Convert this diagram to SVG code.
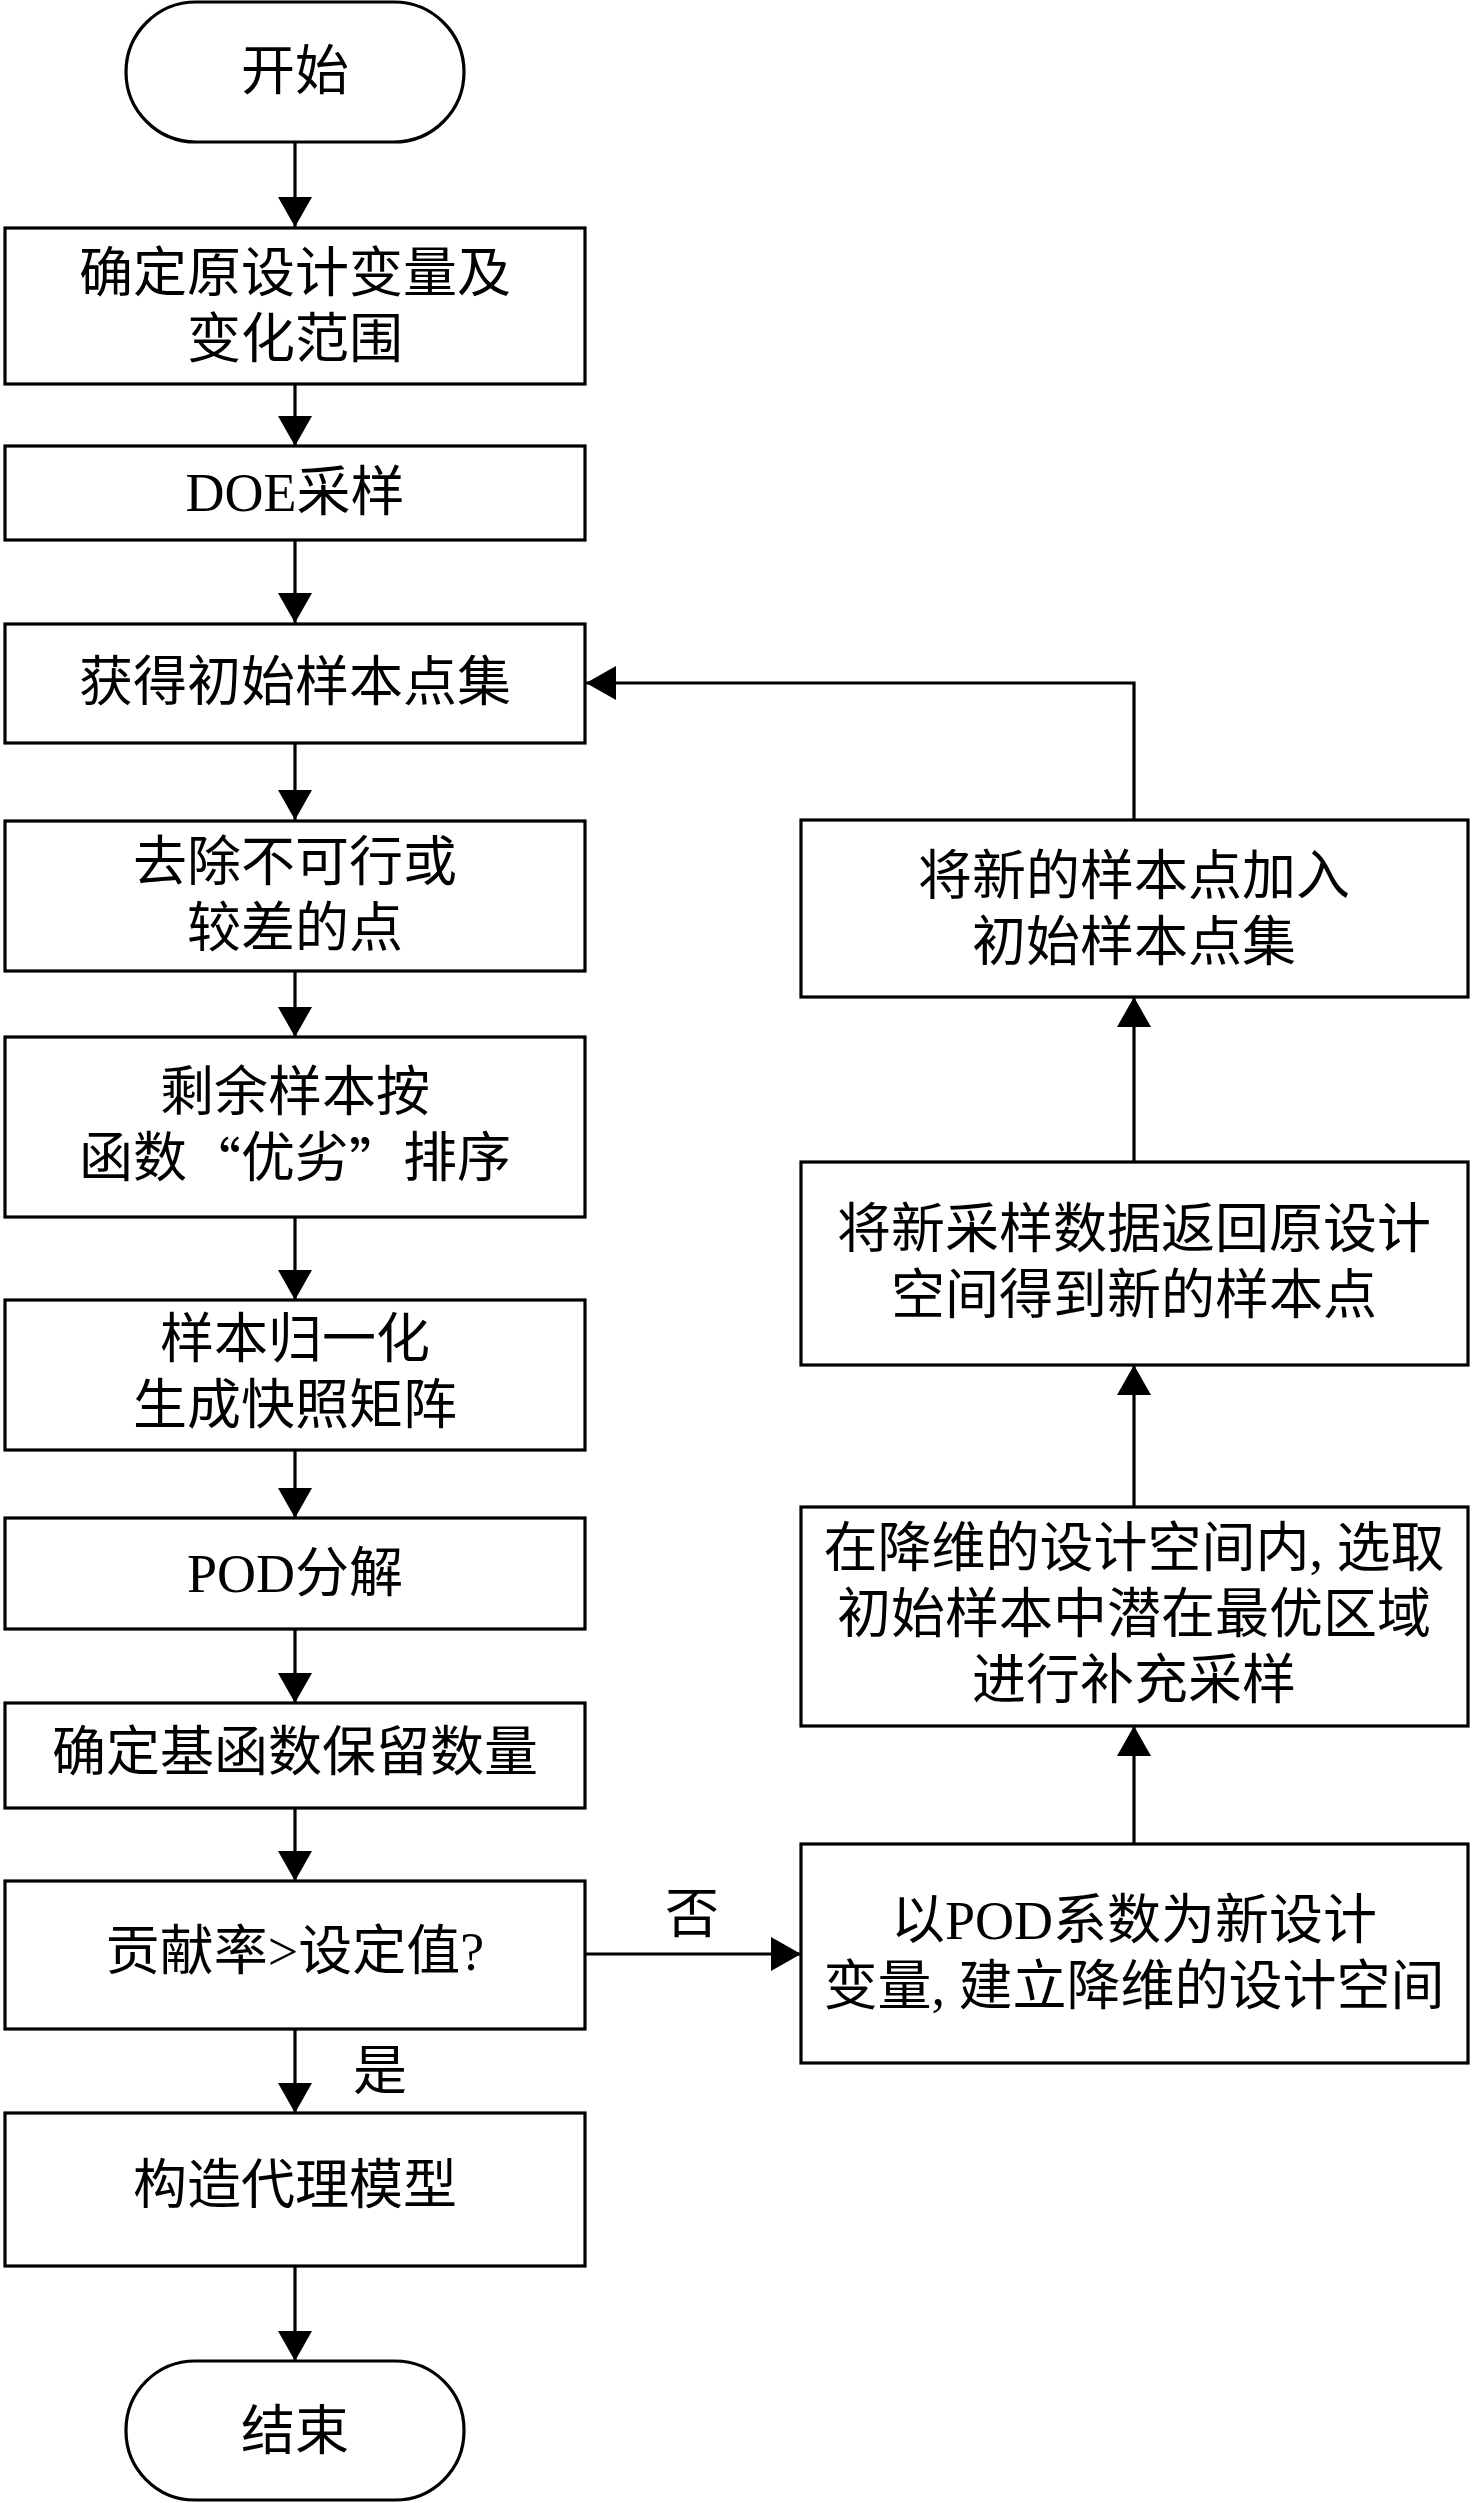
<svg xmlns="http://www.w3.org/2000/svg" width="1476" height="2503" viewBox="0 0 1476 2503">
<style>
.b{fill:#fff;stroke:#000;stroke-width:3.2}
.t{font-family:"Liberation Serif","Noto Sans CJK SC",serif;font-size:54px;fill:#000;text-anchor:middle;dominant-baseline:central}
.q{font-family:"Noto Sans CJK SC",sans-serif}
.c{fill:none;stroke:#000;stroke-width:3.2}
</style>
<defs>
<marker id="ah" markerUnits="userSpaceOnUse" markerWidth="34" markerHeight="34" viewBox="0 0 30 34" refX="30" refY="17" orient="auto">
<path d="M0,0 L30,17 L0,34 Z" fill="#000"/>
</marker>
</defs>
<rect width="1476" height="2503" fill="#fff"/>
<g id="connectors">
<line class="c" x1="295" y1="142" x2="295" y2="227" marker-end="url(#ah)"/>
<line class="c" x1="295" y1="384" x2="295" y2="446" marker-end="url(#ah)"/>
<line class="c" x1="295" y1="540" x2="295" y2="623" marker-end="url(#ah)"/>
<line class="c" x1="295" y1="743" x2="295" y2="820" marker-end="url(#ah)"/>
<line class="c" x1="295" y1="971" x2="295" y2="1037" marker-end="url(#ah)"/>
<line class="c" x1="295" y1="1217" x2="295" y2="1300" marker-end="url(#ah)"/>
<line class="c" x1="295" y1="1450" x2="295" y2="1518" marker-end="url(#ah)"/>
<line class="c" x1="295" y1="1629" x2="295" y2="1703" marker-end="url(#ah)"/>
<line class="c" x1="295" y1="1808" x2="295" y2="1881" marker-end="url(#ah)"/>
<line class="c" x1="295" y1="2029" x2="295" y2="2113" marker-end="url(#ah)"/>
<text class="t" x="380" y="2072">是</text>
<line class="c" x1="295" y1="2266" x2="295" y2="2361" marker-end="url(#ah)"/>
<line class="c" x1="585" y1="1954" x2="801" y2="1954" marker-end="url(#ah)"/>
<text class="t" x="692" y="1915">否</text>
<line class="c" x1="1134" y1="1844" x2="1134" y2="1726" marker-end="url(#ah)"/>
<line class="c" x1="1134" y1="1507" x2="1134" y2="1365" marker-end="url(#ah)"/>
<line class="c" x1="1134" y1="1162" x2="1134" y2="997" marker-end="url(#ah)"/>
<polyline class="c" points="1134,820 1134,683 586,683" marker-end="url(#ah)"/>
</g>
<g id="start">
<rect class="b" x="126" y="2" width="338" height="140" rx="70" ry="70"/>
<text class="t" x="295" y="72">开始</text>
</g>
<g id="n1">
<rect class="b" x="5" y="228" width="580" height="156"/>
<text class="t" x="295" y="274">确定原设计变量及</text>
<text class="t" x="295" y="340">变化范围</text>
</g>
<g id="n2">
<rect class="b" x="5" y="446" width="580" height="94"/>
<text class="t" x="295" y="493">DOE采样</text>
</g>
<g id="n3">
<rect class="b" x="5" y="624" width="580" height="119"/>
<text class="t" x="295" y="683">获得初始样本点集</text>
</g>
<g id="n4">
<rect class="b" x="5" y="821" width="580" height="150"/>
<text class="t" x="295" y="863">去除不可行或</text>
<text class="t" x="295" y="929">较差的点</text>
</g>
<g id="n5">
<rect class="b" x="5" y="1037" width="580" height="180"/>
<text class="t" x="295" y="1093">剩余样本按</text>
<text class="t" x="295" y="1159">函数<tspan class="q">“</tspan>优劣<tspan class="q">”</tspan>排序</text>
</g>
<g id="n6">
<rect class="b" x="5" y="1300" width="580" height="150"/>
<text class="t" x="295" y="1340">样本归一化</text>
<text class="t" x="295" y="1406">生成快照矩阵</text>
</g>
<g id="n7">
<rect class="b" x="5" y="1518" width="580" height="111"/>
<text class="t" x="295" y="1574">POD分解</text>
</g>
<g id="n8">
<rect class="b" x="5" y="1703" width="580" height="105"/>
<text class="t" x="295" y="1753">确定基函数保留数量</text>
</g>
<g id="n9">
<rect class="b" x="5" y="1881" width="580" height="148"/>
<text class="t" x="295" y="1952">贡献率&gt;设定值?</text>
</g>
<g id="n10">
<rect class="b" x="5" y="2113" width="580" height="153"/>
<text class="t" x="295" y="2186">构造代理模型</text>
</g>
<g id="end">
<rect class="b" x="126" y="2361" width="338" height="139" rx="69" ry="69"/>
<text class="t" x="295" y="2432">结束</text>
</g>
<g id="r1">
<rect class="b" x="801" y="820" width="667" height="177"/>
<text class="t" x="1134" y="877">将新的样本点加入</text>
<text class="t" x="1134" y="943">初始样本点集</text>
</g>
<g id="r2">
<rect class="b" x="801" y="1162" width="667" height="203"/>
<text class="t" x="1134" y="1230">将新采样数据返回原设计</text>
<text class="t" x="1134" y="1296">空间得到新的样本点</text>
</g>
<g id="r3">
<rect class="b" x="801" y="1507" width="667" height="219"/>
<text class="t" x="1134" y="1549">在降维的设计空间内, 选取</text>
<text class="t" x="1134" y="1615">初始样本中潜在最优区域</text>
<text class="t" x="1134" y="1681">进行补充采样</text>
</g>
<g id="r4">
<rect class="b" x="801" y="1844" width="667" height="219"/>
<text class="t" x="1134" y="1921">以POD系数为新设计</text>
<text class="t" x="1134" y="1987">变量, 建立降维的设计空间</text>
</g>
</svg>
